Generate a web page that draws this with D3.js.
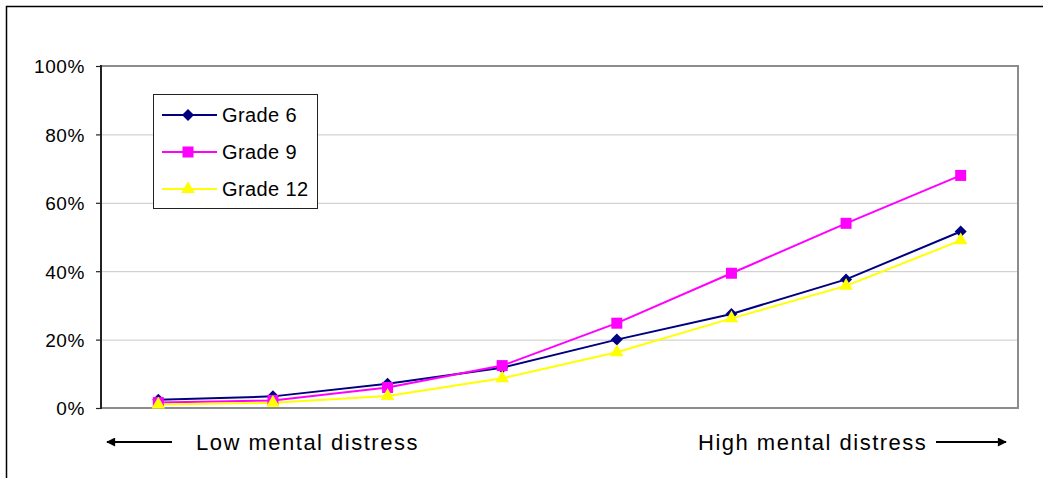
<!DOCTYPE html>
<html>
<head>
<meta charset="utf-8">
<script src="https://cdn.jsdelivr.net/npm/d3@7"></script>
<style>
  html, body { margin: 0; padding: 0; background: #fff; }
  svg { display: block; font-family: "Liberation Sans", Arial, sans-serif; }
</style>
</head>
<body>
<svg id="chart" width="1043" height="478"></svg>
<script>
const categories = ["1", "2", "3", "4", "5", "6", "7", "8"];
const grade6 = [0.024, 0.034, 0.071, 0.118, 0.200, 0.275, 0.376, 0.516];
const grade9 = [0.016, 0.022, 0.060, 0.124, 0.248, 0.394, 0.540, 0.680];
const grade12 = [0.010, 0.015, 0.035, 0.087, 0.163, 0.262, 0.357, 0.490];
const seriesNames = ["Grade 6", "Grade 9", "Grade 12"];
const yTicks = [0, 0.2, 0.4, 0.6, 0.8, 1.0];
const lowLabel = "Low mental distress";
const highLabel = "High mental distress";

const series = [
  { name: seriesNames[0], values: grade6, color: "#000080", symbol: "diamond" },
  { name: seriesNames[1], values: grade9, color: "#FF00FF", symbol: "square" },
  { name: seriesNames[2], values: grade12, color: "#FFFF00", symbol: "triangle" }
];

const svg = d3.select("#chart");
const plot = { left: 101, top: 66, right: 1018, bottom: 408 };

// outer frame (extends beyond the visible area)
svg.append("rect")
  .attr("x", 6.5).attr("y", 6.5)
  .attr("width", 1200).attr("height", 600)
  .attr("fill", "none").attr("stroke", "#000").attr("stroke-width", 1.5);

const x = d3.scalePoint().domain(categories).range([plot.left, plot.right]).padding(0.5);
const y = d3.scaleLinear().domain([0, 1]).range([plot.bottom, plot.top]);

// gridlines
svg.append("g").selectAll("line").data(yTicks.filter(t => t > 0 && t < 1)).join("line")
  .attr("x1", plot.left).attr("x2", plot.right)
  .attr("y1", d => y(d) + 0.5).attr("y2", d => y(d) + 0.5)
  .attr("stroke", "#c8c8c8").attr("stroke-width", 1);

// plot border top & right
svg.append("line").attr("x1", plot.left).attr("x2", plot.right)
  .attr("y1", y(1)).attr("y2", y(1)).attr("stroke", "#8c8c8c").attr("stroke-width", 2);
svg.append("line").attr("x1", plot.right).attr("x2", plot.right)
  .attr("y1", plot.top - 1).attr("y2", plot.bottom + 1).attr("stroke", "#8c8c8c").attr("stroke-width", 2);
// bottom axis line
svg.append("line").attr("x1", plot.left).attr("x2", plot.right)
  .attr("y1", plot.bottom).attr("y2", plot.bottom).attr("stroke", "#8c8c8c").attr("stroke-width", 2);

// y axis
const yAxis = d3.axisLeft(y).tickValues(yTicks).tickFormat(d3.format(".0%")).tickSize(5).tickPadding(11);
const gy = svg.append("g").attr("transform", `translate(${plot.left},0)`).call(yAxis);
gy.attr("font-size", 19).attr("font-family", "Liberation Sans, Arial, sans-serif");
gy.select(".domain").attr("stroke", "#222").attr("stroke-width", 2)
  .attr("d", `M0,${plot.top - 1}V${plot.bottom + 1}`);
gy.selectAll(".tick line").attr("stroke", "#222").attr("stroke-width", 1.2);
gy.selectAll(".tick text")
  .attr("fill", "#000")
  .attr("letter-spacing", "0.6px")
  .attr("dy", "0.36em");

// lines and markers
const line = d3.line().x((d, i) => x(categories[i])).y(d => y(d));
const symbolMap = { diamond: d3.symbolSquare, square: d3.symbolSquare, triangle: d3.symbolTriangle };
const symbolSize = { diamond: 72, square: 121, triangle: 80 };
const symbolRot = { diamond: 45, square: 0, triangle: 0 };

series.forEach(s => {
  svg.append("path").datum(s.values)
    .attr("d", line).attr("fill", "none")
    .attr("stroke", s.color).attr("stroke-width", 2);
});
series.forEach(s => {
  svg.append("g").selectAll("path").data(s.values).join("path")
    .attr("transform", (d, i) => `translate(${x(categories[i])},${y(d)}) rotate(${symbolRot[s.symbol]})`)
    .attr("d", d3.symbol().type(symbolMap[s.symbol]).size(symbolSize[s.symbol]))
    .attr("fill", s.color);
});

// legend
const legend = svg.append("g");
legend.append("rect")
  .attr("x", 153.5).attr("y", 94.5).attr("width", 164).attr("height", 114)
  .attr("fill", "#fff").attr("stroke", "#222").attr("stroke-width", 1);
const rowY = [115, 152, 189];
series.forEach((s, i) => {
  legend.append("line").attr("x1", 162).attr("x2", 217)
    .attr("y1", rowY[i]).attr("y2", rowY[i])
    .attr("stroke", s.color).attr("stroke-width", 2);
  legend.append("path")
    .attr("transform", `translate(188,${rowY[i]}) rotate(${symbolRot[s.symbol]})`)
    .attr("d", d3.symbol().type(symbolMap[s.symbol]).size(symbolSize[s.symbol]))
    .attr("fill", s.color);
  legend.append("text").attr("x", 222).attr("y", rowY[i] + 7)
    .attr("font-size", 20).attr("letter-spacing", "0.4px").attr("fill", "#000")
    .text(s.name);
});

// arrows and labels
const defs = svg.append("defs");
defs.append("marker").attr("id", "arrow").attr("viewBox", "0 0 10 10")
  .attr("refX", 9).attr("refY", 5).attr("markerWidth", 11).attr("markerHeight", 9)
  .attr("markerUnits", "userSpaceOnUse").attr("orient", "auto")
  .append("path").attr("d", "M0,0L10,5L0,10Z").attr("fill", "#000");

svg.append("line").attr("x1", 172).attr("x2", 107).attr("y1", 442).attr("y2", 442)
  .attr("stroke", "#000").attr("stroke-width", 2).attr("marker-end", "url(#arrow)");
svg.append("line").attr("x1", 936).attr("x2", 1006).attr("y1", 442).attr("y2", 442)
  .attr("stroke", "#000").attr("stroke-width", 2).attr("marker-end", "url(#arrow)");

svg.append("text").attr("x", 196).attr("y", 450)
  .attr("font-size", 22).attr("letter-spacing", "1.5px").attr("fill", "#000")
  .text(lowLabel);
svg.append("text").attr("x", 698).attr("y", 450)
  .attr("font-size", 22).attr("letter-spacing", "1.5px").attr("fill", "#000")
  .text(highLabel);
</script>
</body>
</html>
